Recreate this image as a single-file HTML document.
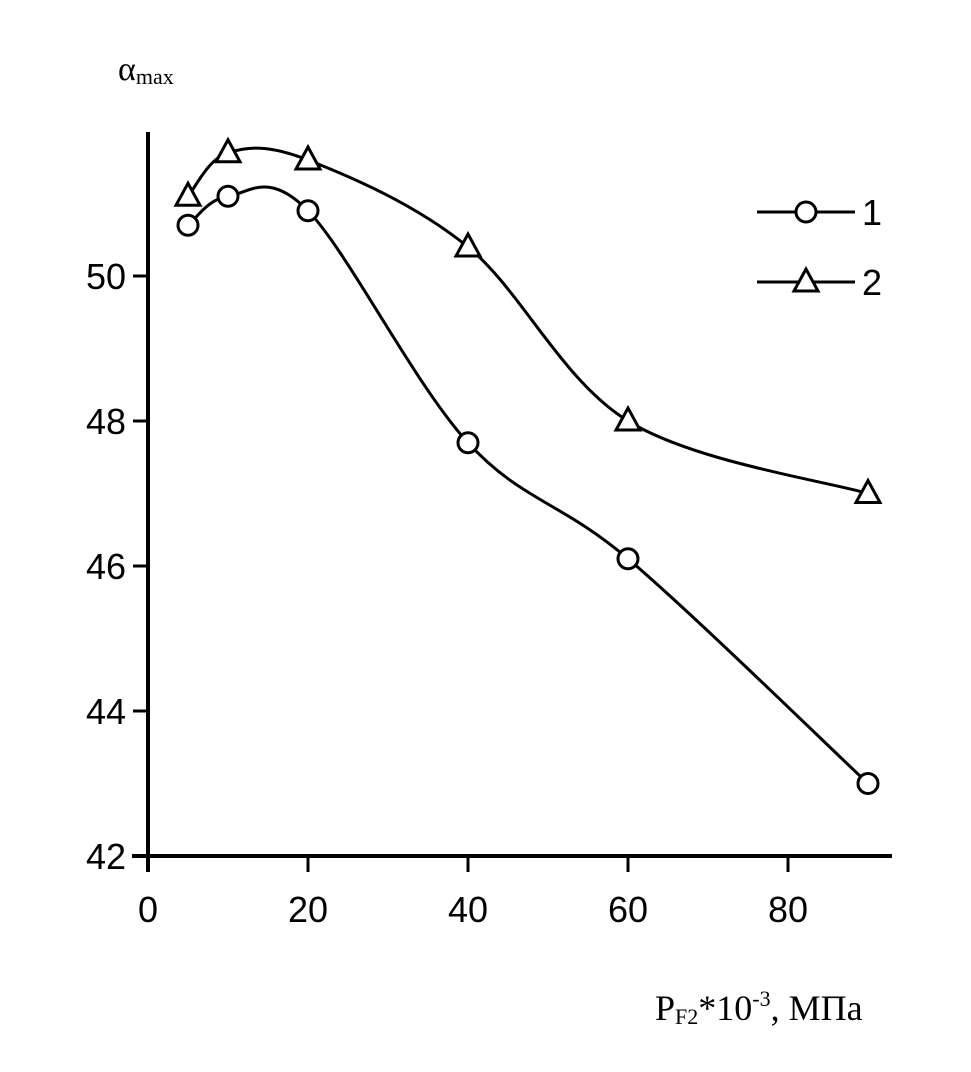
<!DOCTYPE html>
<html><head><meta charset="utf-8"><style>
body{margin:0;background:#fff}
svg{display:block}
text{font-family:"Liberation Sans",Arial,sans-serif;fill:#000}
.serif{font-family:"Liberation Serif","Times New Roman",serif}
</style></head><body>
<svg id="chart" width="971" height="1072" viewBox="0 0 971 1072" xmlns="http://www.w3.org/2000/svg">
<g id="axes"></g>
<g id="series"></g>
<text class="serif" x="118" y="80" font-size="34">α<tspan font-size="22" dy="4">max</tspan></text>
<text class="serif" x="655" y="1020" font-size="36">P<tspan font-size="22" dy="4">F2</tspan><tspan dy="-4">*10</tspan><tspan font-size="22" dy="-14">-3</tspan><tspan dy="14">,  МПа</tspan></text>
<g id="legend"></g>
</svg>
<script>
const xVals=[5,10,20,40,60,90];
const series1=[50.7,51.1,50.9,47.7,46.1,43.0];
const series2=[51.1,51.7,51.6,50.4,48.0,47.0];
const xTicks=[0,20,40,60,80];
const yTicks=[42,44,46,48,50];
const legendLabels=["1","2"];
const NS="http://www.w3.org/2000/svg";
const X=v=>148+v*8;
const Y=v=>856-(v-42)*72.5;
function mk(tag,attrs,parent){const e=document.createElementNS(NS,tag);for(const k in attrs)e.setAttribute(k,attrs[k]);parent.appendChild(e);return e;}
const axes=document.getElementById('axes');
let a=mk('line',{x1:148,y1:132,x2:148,y2:872,stroke:'#000','stroke-width':4},axes);

a=mk('line',{x1:132,y1:856,x2:892,y2:856,stroke:'#000','stroke-width':4},axes);

yTicks.forEach(t=>{
 const l=mk('line',{x1:133,y1:Y(t),x2:148,y2:Y(t),stroke:'#000','stroke-width':3},axes);
 
 const tx=mk('text',{x:126,y:Y(t)+13,'font-size':36,'text-anchor':'end'},axes);tx.textContent=t;
 
});
xTicks.forEach(t=>{
 const l=mk('line',{x1:X(t),y1:856,x2:X(t),y2:872,stroke:'#000','stroke-width':3},axes);
 
 const tx=mk('text',{x:X(t),y:922,'font-size':36,'text-anchor':'middle'},axes);tx.textContent=t;
 
});
function smooth(pts){let d=`M${pts[0][0]},${pts[0][1]}`;
 for(let i=0;i<pts.length-1;i++){const p0=pts[Math.max(0,i-1)],p1=pts[i],p2=pts[i+1],p3=pts[Math.min(pts.length-1,i+2)];
  const c1=[p1[0]+(p2[0]-p0[0])/6,p1[1]+(p2[1]-p0[1])/6],c2=[p2[0]-(p3[0]-p1[0])/6,p2[1]-(p3[1]-p1[1])/6];
  d+=` C${c1[0]},${c1[1]} ${c2[0]},${c2[1]} ${p2[0]},${p2[1]}`;}return d;}
const sg=document.getElementById('series');
function tri(x,y,parent){const p=mk('polygon',{points:`${x},${y-13} ${x-12},${y+9} ${x+12},${y+9}`,fill:'#fff',stroke:'#000','stroke-width':3},parent);return p;}
[[series1,'circle'],[series2,'triangle']].forEach(([s,m],k)=>{
 const pts=xVals.map((x,i)=>[X(x),Y(s[i])]);
 const p=mk('path',{d:smooth(pts),fill:'none',stroke:'#000','stroke-width':3},sg);
 
 pts.forEach(pt=>{let e;
  if(m==='circle')e=mk('circle',{cx:pt[0],cy:pt[1],r:10,fill:'#fff',stroke:'#000','stroke-width':3},sg);
  else e=tri(pt[0],pt[1],sg);
  });
});
const lg=document.getElementById('legend');
legendLabels.forEach((lab,i)=>{const y=212+i*70;
 const l=mk('line',{x1:757,y1:y,x2:855,y2:y,stroke:'#000','stroke-width':3},lg);
 
 let e=i===0?mk('circle',{cx:806,cy:y,r:10,fill:'#fff',stroke:'#000','stroke-width':3},lg):tri(806,y,lg);
 
 const t=mk('text',{x:862,y:y+13,'font-size':36},lg);t.textContent=lab;
 
});
</script>
</body></html>
